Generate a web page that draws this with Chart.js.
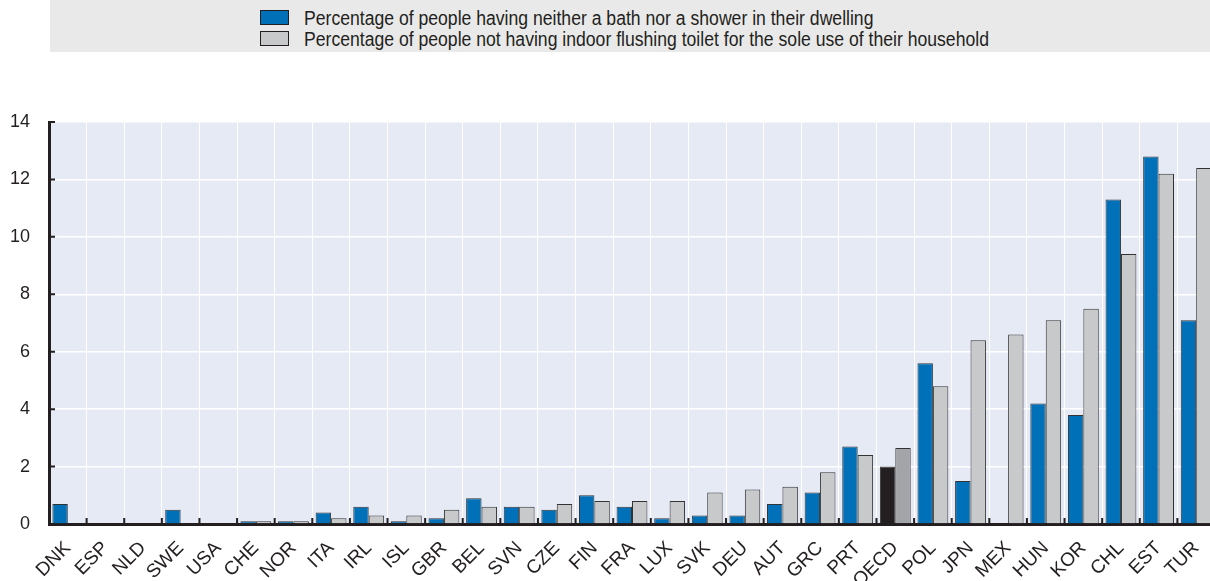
<!DOCTYPE html>
<html>
<head>
<meta charset="utf-8">
<script src="https://cdn.jsdelivr.net/npm/chart.js@4/dist/chart.umd.min.js"></script>
<style>
  html, body { margin: 0; padding: 0; background: #fff; overflow: hidden; }
  #wrap { position: relative; width: 1210px; height: 581px; overflow: hidden; }
  #legend {
    position: absolute; left: 50px; top: 0; width: 1160px; height: 52px;
    background: #e9e9e9; font-family: 'Liberation Sans', Arial, sans-serif;
    font-size: 20px; color: #231f20;
  }
  .item { position: absolute; left: 210px; height: 16px; line-height: 16px; white-space: nowrap; }
  .item span.box { position: absolute; left: 0; top: 0; width: 27px; height: 13px; border: 1px solid #231f20; }
  .item span.txt { position: absolute; left: 44px; top: 0px; transform: scaleX(0.88); transform-origin: left center; }
</style>
</head>
<body>
<div id="wrap">
  <canvas id="chart" width="1215" height="581"></canvas>
  <div id="legend"></div>
</div>
<script>
const countries = ['DNK', 'ESP', 'NLD', 'SWE', 'USA', 'CHE', 'NOR', 'ITA', 'IRL', 'ISL', 'GBR', 'BEL', 'SVN', 'CZE',
  'FIN', 'FRA', 'LUX', 'SVK', 'DEU', 'AUT', 'GRC', 'PRT', 'OECD', 'POL', 'JPN', 'MEX', 'HUN', 'KOR', 'CHL', 'EST', 'TUR'];

// neither a bath nor a shower
const noBath = [0.7, null, null, 0.5, null, 0.1, 0.1, 0.4, 0.6, 0.1, 0.2, 0.9, 0.6, 0.5,
  1.0, 0.6, 0.2, 0.3, 0.3, 0.7, 1.1, 2.7, 2.0, 5.6, 1.5, null, 4.2, 3.8, 11.3, 12.8, 7.1];

// no indoor flushing toilet for sole use
const noToilet = [null, null, null, null, null, 0.1, 0.1, 0.2, 0.3, 0.3, 0.5, 0.6, 0.6, 0.7,
  0.8, 0.8, 0.8, 1.1, 1.2, 1.3, 1.8, 2.4, 2.65, 4.8, 6.4, 6.6, 7.1, 7.5, 9.4, 12.2, 12.4];

const seriesLabels = [
  'Percentage of people having neither a bath nor a shower in their dwelling',
  'Percentage of people not having indoor flushing toilet for the sole use of their household'
];
const yTicks = [0, 2, 4, 6, 8, 10, 12, 14];

const blue = '#0070b8';
const grey = '#c8c9cb';
const ink = '#231f20';
const fontFam = "'Liberation Sans', Arial, sans-serif";

const barColors = (base, oecd) => countries.map(c => c === 'OECD' ? oecd : base);

// plot background
const plotBg = {
  id: 'plotBg',
  beforeDraw(chart) {
    const { ctx, chartArea: a } = chart;
    ctx.save();
    ctx.fillStyle = '#e6eaf5';
    ctx.fillRect(a.left, a.top, a.right - a.left, a.bottom - a.top);
    ctx.restore();
  }
};

// small inward tick marks on both axes
const innerTicks = {
  id: 'innerTicks',
  afterDraw(chart) {
    const { ctx, scales: { x, y } } = chart;
    ctx.save();
    ctx.strokeStyle = ink;
    ctx.lineWidth = 2;
    ctx.beginPath();
    const n = countries.length;
    for (let i = 1; i < n; i++) {
      const px = x.left + i * (x.width / n);
      ctx.moveTo(px, y.bottom);
      ctx.lineTo(px, y.bottom - 6);
    }
    yTicks.forEach(v => {
      const py = y.getPixelForValue(v);
      ctx.moveTo(x.left, py);
      ctx.lineTo(x.left + 6, py);
    });
    ctx.stroke();
    ctx.restore();
  }
};

new Chart(document.getElementById('chart'), {
  type: 'bar',
  data: {
    labels: countries,
    datasets: [{
      label: seriesLabels[0],
      data: noBath,
      backgroundColor: barColors(blue, ink),
      borderColor: '#333',
      borderWidth: 1
    }, {
      label: seriesLabels[1],
      data: noToilet,
      backgroundColor: barColors(grey, '#a2a4a7'),
      borderColor: '#333',
      borderWidth: 1
    }]
  },
  options: {
    responsive: false,
    animation: false,
    layout: { padding: { top: 122, right: 0, left: 0, bottom: 0 } },
    plugins: {
      legend: { display: false },
      tooltip: { enabled: false }
    },
    datasets: { bar: { categoryPercentage: 0.82, barPercentage: 1 } },
    scales: {
      x: {
        afterFit(s) { s.height = 57; s.paddingLeft = 0; s.paddingRight = 0; },
        grid: { color: '#ffffff', lineWidth: 1, drawTicks: false },
        border: { color: ink, width: 3 },
        ticks: {
          color: ink, maxRotation: 45, minRotation: 45, autoSkip: false, padding: 13,
          font: { family: fontFam, size: 19 }
        }
      },
      y: {
        min: 0, max: 14,
        afterFit(s) { s.width = 49; s.paddingTop = 0; s.paddingBottom = 0; },
        afterBuildTicks(s) { s.ticks = yTicks.map(v => ({ value: v })); },
        grid: { color: '#ffffff', lineWidth: 1.5, drawTicks: false },
        border: { color: ink, width: 3 },
        ticks: {
          color: ink, padding: 19,
          font: { family: fontFam, size: 18 }
        }
      }
    }
  },
  plugins: [plotBg, innerTicks]
});

// legend as a vertical list, like the original
const legend = document.getElementById('legend');
[blue, grey].forEach((col, i) => {
  const item = document.createElement('div');
  item.className = 'item';
  item.style.top = (10 + i * 21) + 'px';
  item.innerHTML = '<span class="box" style="background:' + col + '"></span><span class="txt">' + seriesLabels[i] + '</span>';
  legend.appendChild(item);
});
</script>
</body>
</html>
